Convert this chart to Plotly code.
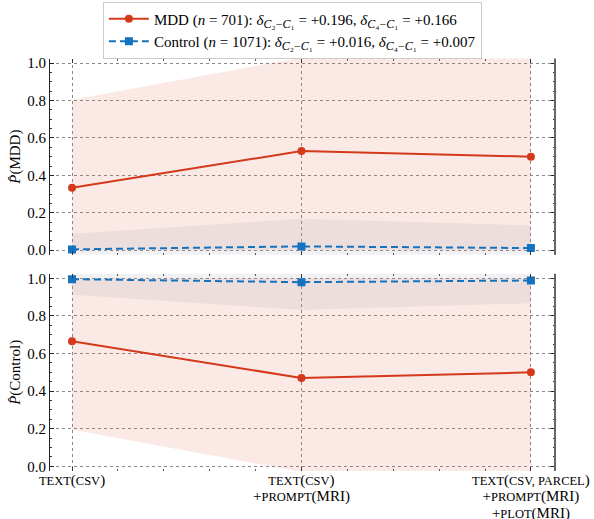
import plotly.graph_objects as go

# ---- data ----
x_pos = [0, 1, 2]
mdd_p_mdd = [0.334, 0.530, 0.500]
ctl_p_mdd = [0.004, 0.020, 0.011]
mdd_p_ctl = [0.666, 0.470, 0.500]
ctl_p_ctl = [0.996, 0.980, 0.989]

mdd_band_top_lo = [0.0, 0.0, 0.0]
mdd_band_top_hi = [0.805, 1.03, 1.03]
ctl_band_top_lo = [-0.03, -0.03, -0.03]
ctl_band_top_hi = [0.087, 0.168, 0.132]

mdd_band_bot_lo = [0.195, -0.03, -0.03]
mdd_band_bot_hi = [1.0, 1.0, 1.0]
ctl_band_bot_lo = [0.913, 0.832, 0.868]
ctl_band_bot_hi = [1.03, 1.03, 1.03]


def nm(s):
    # normal-size characters inside the small-caps tick labels
    return "<span style='font-size:15px'>" + s + "</span>"


tick_labels = [
    "TEXT" + nm("(") + "CSV" + nm(")"),
    "TEXT" + nm("(") + "CSV" + nm(")") + "<br>" + nm("+") + "PROMPT" + nm("(MRI)"),
    "TEXT" + nm("(") + "CSV, PARCEL" + nm(")") + "<br>" + nm("+") + "PROMPT" + nm("(MRI)")
    + "<br>" + nm("+") + "PLOT" + nm("(MRI)"),
]


def delta(a, b):
    return ("<i>δ</i><sub><span style='font-size:12px'><i>C</i>" + a + "−<i>C</i>" + b
            + "</span></sub>")


mdd_name = ("MDD (<i>n</i> = 701): " + delta("₂", "₁") + " = +0.196, "
            + delta("₄", "₁") + " = +0.166")
ctl_name = ("Control (<i>n</i> = 1071): " + delta("₂", "₁") + " = +0.016, "
            + delta("₄", "₁") + " = +0.007")

RED = "#d4391c"
BLUE = "#1472be"
PINK = "rgba(226,110,80,0.15)"
GREY = "rgba(160,160,178,0.15)"
FONT = "Liberation Serif"

fig = go.Figure()


def band(lo, hi, color, xa, ya):
    fig.add_trace(go.Scatter(x=x_pos, y=lo, mode="lines", line=dict(width=0),
                             showlegend=False, hoverinfo="skip", xaxis=xa, yaxis=ya))
    fig.add_trace(go.Scatter(x=x_pos, y=hi, mode="lines", line=dict(width=0),
                             fill="tonexty", fillcolor=color,
                             showlegend=False, hoverinfo="skip", xaxis=xa, yaxis=ya))


# top panel (y2) and bottom panel (y)
band(mdd_band_top_lo, mdd_band_top_hi, PINK, "x2", "y2")
band(ctl_band_top_lo, ctl_band_top_hi, GREY, "x2", "y2")
band(mdd_band_bot_lo, mdd_band_bot_hi, PINK, "x", "y")
band(ctl_band_bot_lo, ctl_band_bot_hi, GREY, "x", "y")

fig.add_trace(go.Scatter(x=x_pos, y=mdd_p_mdd, mode="lines+markers", name=mdd_name,
                         line=dict(color=RED, width=2), marker=dict(symbol="circle", size=8, color=RED),
                         xaxis="x2", yaxis="y2"))
fig.add_trace(go.Scatter(x=x_pos, y=ctl_p_mdd, mode="lines+markers", name=ctl_name,
                         line=dict(color=BLUE, width=2, dash="7px,4px"),
                         marker=dict(symbol="square", size=8, color=BLUE),
                         xaxis="x2", yaxis="y2"))
fig.add_trace(go.Scatter(x=x_pos, y=mdd_p_ctl, mode="lines+markers", showlegend=False,
                         line=dict(color=RED, width=2), marker=dict(symbol="circle", size=8, color=RED),
                         xaxis="x", yaxis="y"))
fig.add_trace(go.Scatter(x=x_pos, y=ctl_p_ctl, mode="lines+markers", showlegend=False,
                         line=dict(color=BLUE, width=2, dash="7px,4px"),
                         marker=dict(symbol="square", size=8, color=BLUE),
                         xaxis="x", yaxis="y"))

xcommon = dict(range=[-0.096, 2.105], tickmode="array", tickvals=x_pos,
               ticks="inside", ticklen=4, tickcolor="#333",
               showline=True, linecolor="rgba(0,0,0,0)", mirror="allticks",
               showgrid=True, gridcolor="#888", griddash="dot", gridwidth=1,
               zeroline=False, automargin=False,
               minor=dict(tickmode="linear", tick0=0, dtick=0.2, ticks="inside",
                          ticklen=2, tickcolor="#555", showgrid=False),
               tickfont=dict(family=FONT, size=12.5, color="black"))
ycommon = dict(range=[-0.025, 1.025], tickmode="array", tickvals=[0, 0.2, 0.4, 0.6, 0.8, 1.0],
               ticktext=["0.0", "0.2", "0.4", "0.6", "0.8", "1.0"],
               ticks="inside", ticklen=4, tickcolor="#222",
               showline=True, linecolor="#222", linewidth=1, mirror="ticks",
               showgrid=True, gridcolor="#888", griddash="dot", gridwidth=1,
               zeroline=False, automargin=False,
               minor=dict(tickmode="linear", tick0=0, dtick=0.05, ticks="inside",
                          ticklen=2, tickcolor="#333", showgrid=False),
               tickfont=dict(family=FONT, size=15, color="black"),
               title_font=dict(family=FONT, size=15, color="black"))

fig.update_layout(
    width=594, height=519,
    margin=dict(l=50, r=39, t=57, b=48),
    paper_bgcolor="white", plot_bgcolor="white",
    font=dict(family=FONT, size=13, color="black"),
    xaxis=dict(**xcommon, domain=[0, 1], anchor="y", ticktext=tick_labels,
               ticklabelstandoff=-2),
    xaxis2=dict(**xcommon, domain=[0, 1], anchor="y2", matches="x", showticklabels=False,
                ticktext=["a", "b", "c"]),
    yaxis=dict(**ycommon, domain=[0, 0.4783], anchor="x",
               title=dict(text="<i>P̂</i>(Control)", standoff=2)),
    yaxis2=dict(**ycommon, domain=[0.5242, 1.0], anchor="x2",
                title=dict(text="<i>P̂</i>(MDD)", standoff=2)),
    legend=dict(x=0.48, xanchor="center", y=0.997, yanchor="top", yref="container",
                bordercolor="#ccc", borderwidth=1, bgcolor="white",
                font=dict(family=FONT, size=15, color="black"),
                traceorder="normal", tracegroupgap=0, itemwidth=40),
    shapes=[
        dict(type="line", xref="paper", yref="paper", x0=1, x1=1, y0=0.5242, y1=1.0,
             line=dict(color="#666", width=2)),
        dict(type="line", xref="paper", yref="paper", x0=1, x1=1, y0=0, y1=0.4783,
             line=dict(color="#666", width=2)),
    ],
)

fig.write_html("out.html", config={"displayModeBar": False},
               post_script="document.body.style.margin='0';document.body.style.overflow='hidden';")
